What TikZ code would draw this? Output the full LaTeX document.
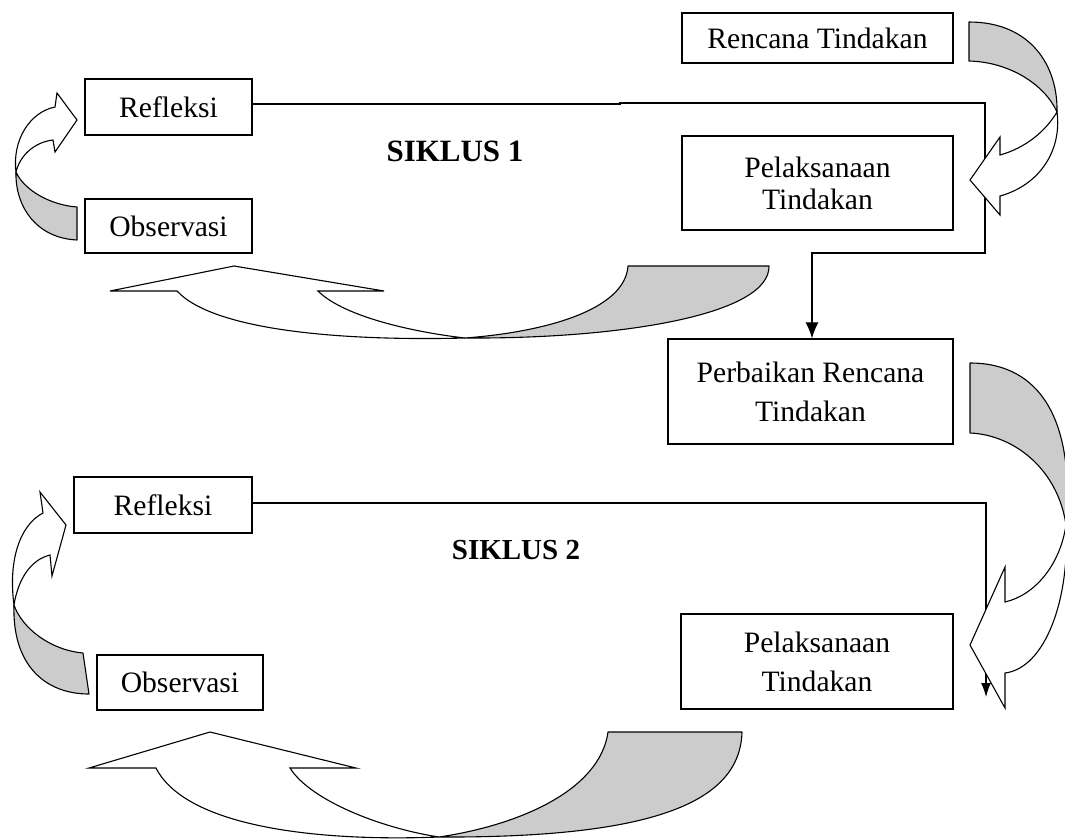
\documentclass[tikz,border=0pt]{standalone}
\usepackage{fontspec}
\setmainfont{Liberation Serif}
\usetikzlibrary{arrows.meta}
\definecolor{shade}{RGB}{204,204,204}
\begin{document}
\begin{tikzpicture}[x=1pt,y=-1pt,
  box/.style={draw,line width=1.3pt,align=center,inner sep=0pt,
    font=\fontsize{29.6}{39}\selectfont},
  conn/.style={line width=1.2pt},
  back/.style={draw,line width=1.1pt,fill=shade,line join=round},
  front/.style={draw,line width=1.1pt,fill=white,line join=miter},
  title/.style={anchor=base,font=\bfseries\fontsize{31}{34}\selectfont}]
\useasboundingbox (0,0) rectangle (1065,839);

% boxes
\node[box,minimum width=271pt,minimum height=50pt] (ren) at (817.5,38) {Rencana Tindakan};
\node[box,minimum width=271pt,minimum height=94pt,font=\fontsize{29.6}{32}\selectfont] (pel1) at (817.5,183) {Pelaksanaan\\Tindakan};
\node[box,minimum width=167pt,minimum height=56pt] (ref1) at (168.5,107) {Refleksi};
\node[box,minimum width=167pt,minimum height=54pt] (obs1) at (168.5,226) {Observasi};
\node[box,minimum width=285pt,minimum height=105pt] (perb) at (810.5,391.5) {Perbaikan Rencana\\Tindakan};
\node[box,minimum width=178pt,minimum height=56pt] (ref2) at (163,505) {Refleksi};
\node[box,minimum width=166pt,minimum height=55pt] (obs2) at (180,682.5) {Observasi};
\node[box,minimum width=272pt,minimum height=95pt] (pel2) at (817,661.5) {Pelaksanaan\\Tindakan};

\node[title] (s1) at (455,161) {SIKLUS 1};
\node[title,font=\bfseries\fontsize{29}{33}\selectfont] (s2) at (516,559) {SIKLUS 2};

% connectors
\coordinate (a1) at (620,104);
\coordinate (a2) at (620,103);
\coordinate (a3) at (985,103);
\coordinate (a4) at (985,253);
\coordinate (a5) at (812,253);
\draw[conn,-{Latex[length=16pt,width=13pt]}] ([yshift=3pt]ref1.east) -- (a1) -- (a2) -- (a3) -- (a4) -- (a5) -- (a5 |- perb.north);

\coordinate (b1) at (986,503);
\coordinate (b2) at (986,697);
\draw[conn,-{Latex[length=14pt,width=10pt]}] ([yshift=2pt]ref2.east) -- (b1) -- (b2);

% curved arrow A (Rencana -> Pelaksanaan 1)
\draw[back] (969,22) -- (969,61) .. controls (1010,62) and (1045,85) .. (1057,112)
  .. controls (1058,65) and (1030,22) .. (969,22) -- cycle;
\draw[front] (1057,112) .. controls (1062,150) and (1040,185) .. (1000,196) -- (1000,215) -- (970,180)
  -- (1000,137) -- (1000,155) .. controls (1025,148) and (1045,132) .. (1057,112) -- cycle;

% curved arrow B (Perbaikan -> Pelaksanaan 2)
\draw[back] (970,363) -- (970,433) .. controls (1015,435) and (1058,470) .. (1066,525)
  .. controls (1075,420) and (1040,363) .. (970,363) -- cycle;
\draw[front] (1066,525) .. controls (1070,600) and (1045,668) .. (1005,673) -- (1005,708) -- (970,645)
  -- (1005,567) -- (1005,602) .. controls (1035,595) and (1060,565) .. (1066,525) -- cycle;

% curved arrow C (Observasi 1 -> Refleksi 1)
\draw[back] (77,207) -- (77,240) .. controls (35,238) and (15,205) .. (16,172)
  .. controls (24,190) and (50,205) .. (77,207) -- cycle;
\draw[front] (16,172) .. controls (12,140) and (30,112) .. (55,107) -- (57,93) -- (77,120)
  -- (55,152) -- (53,140) .. controls (35,142) and (20,155) .. (16,172) -- cycle;

% curved arrow D (Observasi 2 -> Refleksi 2)
\draw[back] (83,653) -- (89,694) .. controls (45,694) and (12,665) .. (14,605)
  .. controls (22,628) and (50,650) .. (83,653) -- cycle;
\draw[front] (14,605) .. controls (8,560) and (20,525) .. (43,513) -- (40,492) -- (66,525)
  -- (52,576) -- (50,555) .. controls (30,560) and (18,580) .. (14,605) -- cycle;

% curved arrow E (cycle 1 bottom)
\draw[back] (628,266) -- (769,266) .. controls (770,315) and (620,339) .. (465,338)
  .. controls (545,332) and (625,310) .. (628,266) -- cycle;
\draw[front] (465,338) .. controls (350,341) and (215,332) .. (177,291) -- (110,291) -- (234,266)
  -- (384,291) -- (318,291) .. controls (345,318) and (420,333) .. (465,338) -- cycle;

% curved arrow F (cycle 2 bottom)
\draw[back] (608,732) -- (742,732) .. controls (740,800) and (660,838) .. (439,837)
  .. controls (520,825) and (600,790) .. (608,732) -- cycle;
\draw[front] (439,837) .. controls (310,842) and (185,825) .. (156,768) -- (89,768) -- (210,732)
  -- (356,768) -- (290,768) .. controls (310,800) and (380,828) .. (439,837) -- cycle;
\end{tikzpicture}
\end{document}
